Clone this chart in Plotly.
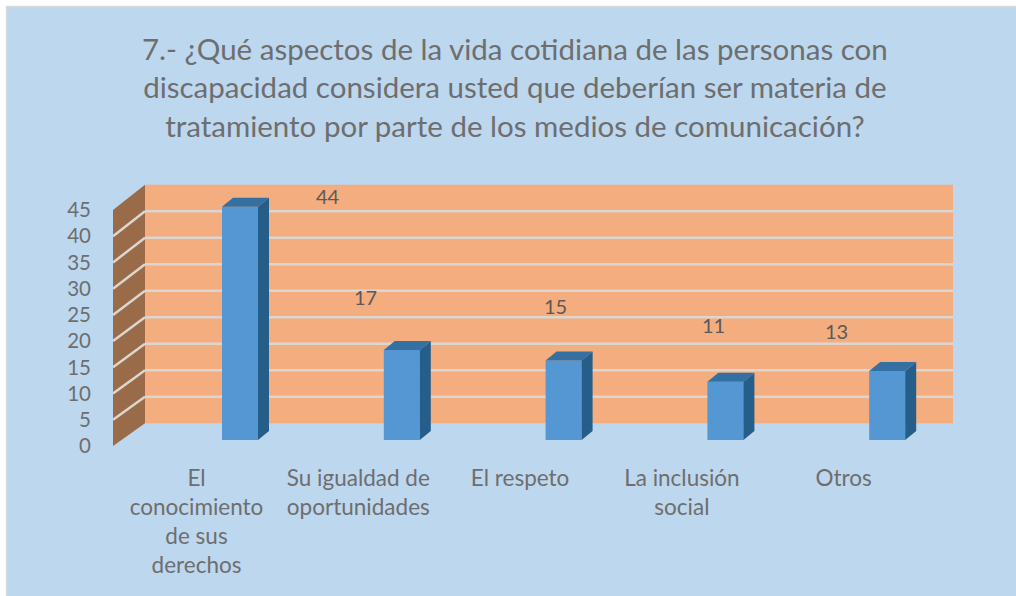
import plotly.graph_objects as go

# ---- data ----
categories = ["El<br>conocimiento<br>de sus<br>derechos", "Su igualdad de<br>oportunidades",
              "El respeto", "La inclusión<br>social", "Otros"]
values = [44, 17, 15, 11, 13]
y_ticks = [0, 5, 10, 15, 20, 25, 30, 35, 40, 45]
title_text = ("7.- ¿Qué aspectos de la vida cotidiana de las personas con<br>"
              "discapacidad considera usted que deberían ser materia de<br>"
              "tratamiento por parte de los medios de comunicación?")

# ---- styling / geometry (pixels) ----
W, H = 1016, 596
FONT = "Lato, Carlito, Calibri, sans-serif"
BG = "#BDD7EE"
WALL = "#F4AD7E"
SIDE = "#9A6B48"
GRID = "#DCD6D0"
BAR_FRONT = "#5497D3"
BAR_SIDE = "#255E88"
BAR_TOP = "#3570A3"
TXT = "#6E6E6E"

X0, SX = 196.5, 161.8          # category centre pixel, pixels per category
BAR_SHIFT = 43.5 / SX           # bar front offset from category centre
BAR_W = 36 / SX
DEPTH_X, DEPTH_Y = 11 / SX, 9 / 5.3
FRONT0, FRONT_S = 446.0, 5.244  # front plane: 0 pixel, px per unit
BAR0, BAR_S = 440.0, 5.3
BACK0, BACK_S = 423.3, 5.3
WALL_L, WALL_R, SIDE_L = 145, 953, 113
YAX_PX = 95

def xd(px):
    return (px - X0) / SX

def yrange(p0, s):
    return [(p0 - H) / s, p0 / s]

def pp(px, py):
    return px / W, 1 - py / H

label_dx = [0.81, 0.044, 0.219, 0.195, -0.045]
label_dy = [2.0, 10.0, 10.3, 10.7, 7.6]

fig = go.Figure()

# invisible anchor trace for the front-plane value axis
fig.add_trace(go.Scatter(x=[xd(SIDE_L)] * len(y_ticks), y=y_ticks, mode="markers",
                         marker=dict(opacity=0, size=1), hoverinfo="skip", showlegend=False))

# bars (front face)
bx = [i + BAR_SHIFT for i in range(len(values))]
fig.add_trace(go.Bar(x=bx, y=values, width=BAR_W, yaxis="y2",
                     marker=dict(color=BAR_FRONT, line=dict(width=0)),
                     hoverinfo="skip", showlegend=False))
# side and top faces
for xc, v in zip(bx, values):
    r = xc + BAR_W / 2
    l = xc - BAR_W / 2
    fig.add_trace(go.Scatter(x=[r, r + DEPTH_X, r + DEPTH_X, r, r],
                             y=[0, DEPTH_Y, v + DEPTH_Y, v, 0], yaxis="y2",
                             fill="toself", fillcolor=BAR_SIDE, mode="lines",
                             line=dict(width=0), hoverinfo="skip", showlegend=False))
    fig.add_trace(go.Scatter(x=[l, r, r + DEPTH_X, l + DEPTH_X, l],
                             y=[v, v, v + DEPTH_Y, v + DEPTH_Y, v], yaxis="y2",
                             fill="toself", fillcolor=BAR_TOP, mode="lines",
                             line=dict(width=0), hoverinfo="skip", showlegend=False))

shapes = []
# chart background / border
shapes.append(dict(type="rect", xref="paper", yref="paper", x0=6.5 / W, x1=1.01,
                   y0=-0.01, y1=1 - 6.5 / H, fillcolor=BG,
                   line=dict(color="#D9D9D9", width=1.5), layer="below"))
# back wall
top_front = FRONT0 - FRONT_S * y_ticks[-1]
top_back = BACK0 - BACK_S * y_ticks[-1]
a = pp(WALL_L, top_back)
b = pp(WALL_R, BACK0)
shapes.append(dict(type="rect", xref="paper", yref="paper", x0=a[0], x1=b[0],
                   y0=b[1], y1=a[1], fillcolor=WALL, line=dict(width=0), layer="below"))
# side wall
pts = [pp(SIDE_L, FRONT0), pp(SIDE_L, top_front), pp(WALL_L, top_back), pp(WALL_L, BACK0)]
path = "M " + " L ".join(f"{p},{q}" for p, q in pts) + " Z"
shapes.append(dict(type="path", xref="paper", yref="paper", path=path,
                   fillcolor=SIDE, line=dict(width=0), layer="below"))
# gridlines
for t in y_ticks[1:-1]:
    a = pp(WALL_L, BACK0 - BACK_S * t)
    b = pp(WALL_R, BACK0 - BACK_S * t)
    shapes.append(dict(type="line", xref="paper", yref="paper", x0=a[0], x1=b[0],
                       y0=a[1], y1=b[1], line=dict(color=GRID, width=2.5), layer="below"))
    a = pp(SIDE_L, FRONT0 - FRONT_S * t)
    b = pp(WALL_L, BACK0 - BACK_S * t)
    shapes.append(dict(type="line", xref="paper", yref="paper", x0=a[0], y0=a[1],
                       x1=b[0], y1=b[1], line=dict(color=GRID, width=2.5), layer="below"))

annotations = []
for i, v in enumerate(values):
    annotations.append(dict(x=i + label_dx[i], y=v + label_dy[i], xref="x", yref="y2",
                            text=str(v), showarrow=False,
                            font=dict(family=FONT, size=20, color="#5A5A5A")))
annotations.append(dict(x=515 / W, y=1 - 29 / H, xref="paper", yref="paper",
                        xanchor="center", yanchor="top", text=title_text, showarrow=False,
                        font=dict(family=FONT, size=29.5, color=TXT)))

fig.update_layout(
    width=W, height=H, autosize=False,
    margin=dict(l=0, r=0, t=0, b=0, pad=0),
    paper_bgcolor="white", plot_bgcolor="rgba(0,0,0,0)",
    shapes=shapes, annotations=annotations, showlegend=False,
    xaxis=dict(range=[xd(YAX_PX), xd(W)], domain=[YAX_PX / W, 1], anchor="free",
               position=1 - 462 / H,
               tickmode="array", tickvals=list(range(len(categories))), ticktext=categories,
               showgrid=False, zeroline=False, showline=False, ticks="",
               tickfont=dict(family=FONT, size=22.5, color=TXT), fixedrange=True),
    yaxis=dict(range=yrange(FRONT0, FRONT_S), domain=[0, 1], anchor="x",
               tickmode="array", tickvals=y_ticks, ticklabeloverflow="allow",
               ticklabelstandoff=3, showticklabels=True, visible=True,
               showgrid=False, zeroline=False, showline=False, ticks="",
               tickfont=dict(family=FONT, size=20.5, color=TXT), fixedrange=True),
    yaxis2=dict(range=yrange(BAR0, BAR_S), overlaying="y", visible=False, fixedrange=True),
    yaxis3=dict(range=yrange(BACK0, BACK_S), overlaying="y", visible=False, fixedrange=True),
)

fig.write_html("out.html", post_script="document.body.style.margin='0';",
               config={"displayModeBar": False})
